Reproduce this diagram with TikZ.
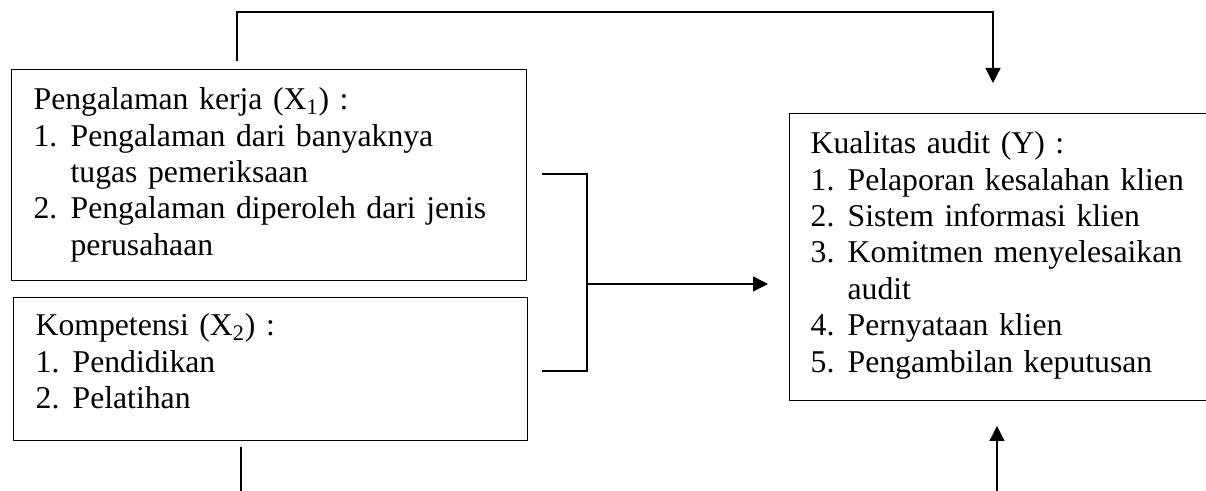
\documentclass[tikz,border=0pt]{standalone}
\usepackage{fontspec}
\setmainfont{Liberation Serif}
\usetikzlibrary{arrows.meta}
\newcommand{\butir}[1]{\makebox[18.5pt][l]{#1}}
\newcommand{\lanjut}{\hspace*{18.5pt}}
\begin{document}
\begin{tikzpicture}[x=0.5pt,y=0.5pt,line width=0.65pt,
  kotak/.style={draw,line width=0.65pt,anchor=north west,inner ysep=0pt,align=left,
    font=\fontsize{15.85pt}{18.2pt}\selectfont},
  panah/.style={-{Triangle[length=7.5pt,width=7.5pt]}}]
\clip (0,0) rectangle (1206,491);
\node[kotak,inner xsep=11pt,text width=235.5pt,text height=20pt,text depth=85.5pt] (x1) at (11,422) {Pengalaman kerja (X\textsubscript{1}) :\\
\butir{1.}Pengalaman dari banyaknya\\
\lanjut tugas pemeriksaan\\
\butir{2.}Pengalaman diperoleh dari jenis\\
\lanjut perusahaan};
\node[kotak,inner xsep=11pt,text width=235pt,text height=19pt,text depth=52.5pt] (x2) at (13,194) {Kompetensi (X\textsubscript{2}) :\\
\butir{1.}Pendidikan\\
\butir{2.}Pelatihan};
\node[kotak,inner xsep=10.5pt,text width=194pt,text height=20pt,text depth=123.5pt] (y) at (789,378) {Kualitas audit (Y) :\\
\butir{1.}Pelaporan kesalahan klien\\
\butir{2.}Sistem informasi klien\\
\butir{3.}Komitmen menyelesaikan\\
\lanjut audit\\
\butir{4.}Pernyataan klien\\
\butir{5.}Pengambilan keputusan};
\coordinate (a1) at (237,430);
\coordinate (atas) at (600,479);
\coordinate (a2) at (993,408);
\coordinate (s1) at (542,317);
\coordinate (s2) at (542,120);
\coordinate (cabang) at (587,207);
\coordinate (tuju) at (768,207);
\coordinate (b1) at (241,44);
\coordinate (b2) at (241,-5);
\coordinate (c1) at (997,-5);
\coordinate (c2) at (997,65);
\draw[panah] (a1) |- (atas) -| (a2);
\draw (s1) -| (cabang) |- (s2);
\draw[panah] (cabang) -- (tuju);
\draw (b1) -- (b2);
\draw[panah] (c1) -- (c2);
\end{tikzpicture}
\end{document}
